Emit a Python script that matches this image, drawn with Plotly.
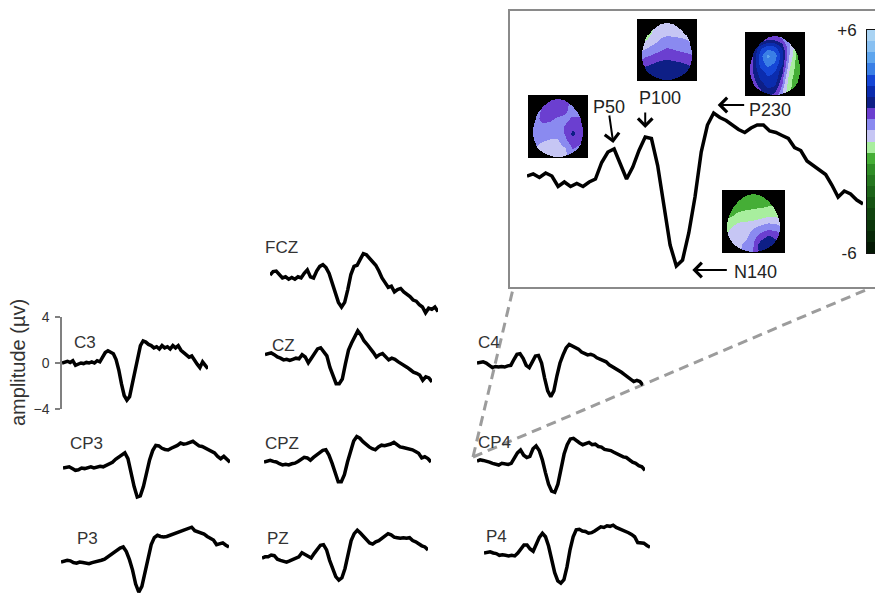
import numpy as np
import plotly.graph_objects as go

FIG_W, FIG_H = 875, 595
FONT = "Liberation Sans, Arial, Helvetica, sans-serif"

# ---------------------------------------------------------------------------
# Data
# ---------------------------------------------------------------------------
time_ms = list(range(-100, 441, 10))  # 55 samples

# grand-average ERPs (µV) per electrode
C3 = [0.0, 0.1, 0.15, 0.05, 0.2, -0.2, -0.1, 0.0, -0.05, 0.05,
      0.0, 0.1, 0.0, 0.2, 0.1, 0.5, 0.9, 1.05, 0.95, 0.8,
      0.3, -0.6, -1.8, -2.8, -3.2, -2.9, -1.8, -0.6, 0.6, 1.5,
      1.9, 1.8, 1.6, 1.5, 1.3, 1.4, 1.2, 1.5, 1.3, 1.4,
      1.2, 1.5, 1.3, 1.5, 1.1, 0.9, 0.7, 0.5, 0.6, 0.2,
      -0.1, -0.4, 0.1, -0.2, -0.5]
FCZ = [0.25, 0.55, 0.6, 0.3, 0.0, 0.1, -0.1, 0.05, -0.1, 0.1,
       0.0, 0.4, 0.7, 0.1, 0.0, 0.6, 1.0, 1.15, 0.9, 0.4,
       -0.4, -1.3, -2.1, -2.5, -2.1, -1.0, 0.3, 1.0, 1.1, 1.6,
       2.1, 2.0, 1.7, 1.4, 1.1, 0.6, 0.0, -0.4, -0.8, -0.7,
       -1.2, -1.0, -0.9, -1.2, -1.4, -1.6, -1.9, -2.0, -2.3, -2.5,
       -3.0, -2.6, -2.7, -2.5, -2.9]
CZ = [0.2, 0.3, 0.35, 0.2, 0.0, -0.1, -0.25, -0.2, -0.3, -0.2,
      -0.1, -0.15, 0.2, 0.0, -0.5, -0.1, 0.3, 0.7, 0.8, 0.5,
      0.1, -0.9, -1.6, -2.3, -2.3, -1.9, -0.6, 0.6, 1.2, 1.7,
      2.25, 1.9, 1.4, 1.1, 0.8, 0.4, 0.0, 0.2, 0.3, 0.0,
      -0.25, -0.1, -0.2, -0.4, -0.55, -0.7, -0.9, -1.1, -1.3, -1.4,
      -1.55, -2.0, -1.7, -1.8, -2.15]
C4 = [0.0, 0.05, 0.1, 0.0, -0.2, -0.4, -0.3, -0.35, -0.3, -0.35,
      -0.25, -0.2, 0.3, 0.75, 0.8, 0.4, -0.2, -0.4, 0.1, 0.6,
      0.65, 0.0, -1.3, -2.4, -2.9, -2.4, -1.1, 0.0, 0.7, 1.3,
      1.6, 1.45, 1.3, 1.2, 0.95, 0.85, 0.7, 0.75, 0.65, 0.45,
      0.35, 0.2, 0.1, -0.15, -0.3, -0.5, -0.6, -0.8, -1.0, -1.2,
      -1.4, -1.6, -1.5, -1.6, -1.9]
CP3 = [0.0, 0.05, 0.1, -0.05, -0.2, -0.15, 0.0, -0.05, 0.05, 0.1,
       0.0, 0.05, 0.15, 0.1, 0.25, 0.35, 0.5, 0.75, 0.95, 1.1,
       1.3, 0.8, -0.5, -1.6, -2.5, -2.4, -1.6, -0.4, 0.7, 1.5,
       1.95, 1.9, 1.7, 1.6, 1.55, 1.7, 1.8, 1.95, 2.15, 2.05,
       2.1, 2.2, 2.3, 2.1, 1.9, 1.85, 1.7, 1.6, 1.45, 1.3,
       1.0, 0.8, 1.0, 0.75, 0.5]
CPZ = [0.0, 0.1, 0.15, 0.05, 0.0, -0.15, -0.25, -0.2, -0.25, -0.15,
       -0.1, 0.05, 0.2, 0.4, 0.35, 0.15, 0.4, 0.6, 0.85, 1.0,
       1.05, 0.6, -0.1, -1.0, -1.7, -1.7, -1.1, 0.0, 1.0, 1.8,
       2.2, 2.05, 1.75, 1.5, 1.3, 1.15, 1.05, 1.3, 1.45, 1.4,
       1.45, 1.55, 1.7, 1.5, 1.3, 1.25, 1.2, 1.1, 1.05, 0.9,
       0.75, 0.35, 0.45, 0.3, 0.0]
CP4 = [0.0, 0.1, 0.05, 0.0, -0.1, -0.2, -0.3, -0.35, -0.2, -0.25,
       -0.3, -0.2, 0.2, 0.7, 0.95, 0.5, 0.3, 0.4, 1.05, 1.3,
       0.9, 0.1, -1.0, -2.0, -2.6, -2.7, -2.0, -0.7, 0.6, 1.4,
       1.9, 1.95, 1.7, 1.55, 1.4, 1.5, 1.6, 1.4, 1.45, 1.25,
       1.2, 1.0, 0.95, 0.9, 0.75, 0.6, 0.5, 0.35, 0.3, 0.1,
       -0.1, -0.2, -0.4, -0.5, -0.8]
P3 = [0.0, 0.1, 0.15, 0.1, -0.05, -0.1, 0.0, -0.05, -0.1, -0.15,
      -0.05, 0.0, 0.05, 0.15, 0.25, 0.45, 0.6, 0.8, 1.0, 1.2,
      1.3, 0.9, 0.2, -0.7, -1.9, -2.6, -2.1, -0.9, 0.5, 1.5,
      2.1, 2.3, 2.2, 2.15, 2.2, 2.3, 2.4, 2.55, 2.6, 2.75,
      2.8, 2.9, 3.0, 2.7, 2.6, 2.55, 2.4, 2.2, 2.05, 1.9,
      1.5, 1.6, 1.65, 1.45, 1.3]
PZ = [0.0, 0.1, 0.1, 0.25, 0.2, -0.1, -0.2, -0.3, -0.35, -0.25,
      -0.15, -0.05, 0.1, 0.45, 0.3, 0.1, 0.0, 0.4, 0.75, 1.1,
      1.15, 0.7, -0.2, -0.9, -1.6, -1.9, -1.7, -0.9, 0.4, 1.5,
      2.1, 2.4, 2.15, 1.9, 1.6, 1.3, 1.2, 1.4, 1.5, 1.7,
      1.85, 2.1, 2.0, 1.8, 1.75, 1.7, 1.75, 1.7, 1.75, 1.5,
      1.4, 1.2, 1.05, 0.95, 0.7]
P4 = [0.0, 0.05, 0.1, 0.0, -0.05, -0.2, -0.15, -0.2, -0.25, -0.2,
      -0.25, 0.0, 0.35, 0.7, 0.7, 0.35, 0.15, 0.8, 1.35, 1.7,
      1.4, 0.6, -0.5, -1.7, -2.4, -2.6, -2.3, -1.2, 0.3, 1.4,
      2.0, 2.05, 1.9, 1.85, 1.7, 1.75, 1.9, 2.05, 2.25, 2.2,
      2.35, 2.3, 2.4, 2.2, 2.1, 1.95, 1.85, 1.75, 1.6, 1.4,
      0.9, 0.85, 0.85, 0.65, 0.5]

# magnified right centro-parietal ERP shown in the inset
INSET_ERP = [0.0, 0.07, -0.05, 0.1, 0.0, -0.35, -0.2, -0.35, -0.25, -0.35,
             -0.2, -0.1, 0.45, 0.8, 0.9, 0.4, -0.1, 0.3, 0.85, 1.3,
             1.25, 0.35, -1.0, -2.3, -3.0, -2.8, -1.9, -0.7, 0.8, 1.7,
             2.1, 1.95, 1.85, 1.7, 1.55, 1.45, 1.6, 1.7, 1.7, 1.5,
             1.45, 1.35, 1.25, 0.95, 0.85, 0.5, 0.35, 0.2, 0.05, -0.3,
             -0.7, -0.5, -0.6, -0.8, -0.93]

# named components: label, search window (ms), polarity
COMPONENTS = [("P50", (0, 70), 1), ("P100", (70, 120), 1),
              ("N140", (100, 200), -1), ("P230", (160, 260), 1)]

# scalp topographies, 9x9 grid of µV values (rows frontal -> occipital, cols left -> right)
TOPO_P50 = [
    [0.9, 0.9, 0.9, 1.1, 1.2, 1.1, 0.9, 0.9, 0.9],
    [0.9, 0.9, 1.3, 1.5, 1.6, 1.4, 1.0, 0.9, 0.9],
    [0.9, 1.0, 1.3, 1.6, 1.5, 1.3, 1.0, 0.9, 0.9],
    [0.9, 1.0, 1.4, 1.3, 1.1, 1.0, 1.3, 1.3, 0.9],
    [0.9, 0.9, 1.0, 1.0, 0.9, 1.3, 1.6, 1.5, 1.0],
    [0.9, 0.9, 0.9, 0.8, 0.8, 1.3, 1.95, 1.5, 1.0],
    [0.8, 0.7, 0.6, 0.5, 0.5, 1.0, 1.5, 1.3, 0.9],
    [0.7, 0.6, 0.4, 0.3, 0.3, 0.5, 1.2, 1.0, 0.8],
    [0.6, 0.5, 0.3, 0.2, 0.2, 0.4, 0.8, 0.8, 0.7],
]
TOPO_P100 = [
    [-0.6, -0.5, -0.1, 0.3, 0.3, 0.3, 0.3, 0.3, 0.3],
    [-0.8, -0.7, -0.1, 0.3, 0.4, 0.4, 0.4, 0.4, 0.3],
    [-0.8, -0.6, 0.1, 0.4, 0.5, 0.5, 0.5, 0.5, 0.4],
    [-0.4, 0.0, 0.4, 0.7, 0.9, 0.8, 0.7, 0.6, 0.5],
    [0.5, 0.6, 0.9, 1.1, 1.3, 1.2, 1.1, 1.0, 0.9],
    [1.0, 1.2, 1.4, 1.6, 1.7, 1.6, 1.5, 1.4, 1.3],
    [1.4, 1.7, 1.9, 2.1, 2.1, 2.1, 2.0, 1.8, 1.6],
    [1.6, 1.9, 2.2, 2.3, 2.3, 2.3, 2.3, 2.1, 1.8],
    [1.7, 2.0, 2.3, 2.4, 2.4, 2.4, 2.3, 2.2, 1.9],
]
TOPO_N140 = [
    [-1.3, -1.2, -1.0, -0.9, -0.9, -0.9, -0.9, -0.9, -0.9],
    [-1.4, -1.3, -1.0, -0.9, -0.8, -0.8, -0.8, -0.8, -0.8],
    [-1.3, -1.1, -0.9, -0.8, -0.7, -0.7, -0.6, -0.6, -0.6],
    [-1.0, -0.8, -0.5, -0.4, -0.4, -0.3, -0.2, -0.2, -0.3],
    [-0.6, -0.3, -0.1, 0.0, 0.1, 0.2, 0.4, 0.3, 0.0],
    [-0.3, 0.0, 0.3, 0.4, 0.6, 0.9, 1.1, 1.0, 0.6],
    [-0.1, 0.2, 0.4, 0.5, 0.9, 1.5, 1.9, 1.6, 1.0],
    [0.0, 0.3, 0.5, 0.7, 1.2, 2.1, 2.4, 2.1, 1.2],
    [0.1, 0.3, 0.5, 0.8, 1.3, 2.0, 2.3, 1.9, 1.1],
]
TOPO_P230 = [
    [0.6, 0.6, 0.7, 0.8, 0.8, 0.7, 0.5, 0.2, 0.0],
    [0.7, 1.0, 1.5, 1.9, 1.8, 1.3, 0.5, -0.2, -0.5],
    [0.8, 1.5, 2.8, 3.5, 3.3, 2.3, 0.7, -0.7, -1.0],
    [0.9, 1.8, 3.3, 4.4, 3.9, 2.6, 0.5, -0.9, -1.1],
    [0.9, 1.8, 3.2, 3.9, 3.5, 2.4, 0.2, -1.0, -1.1],
    [0.9, 1.7, 2.8, 3.2, 3.0, 1.9, -0.1, -1.0, -1.1],
    [0.8, 1.5, 2.4, 2.9, 2.8, 1.4, -0.4, -1.0, -1.1],
    [0.7, 1.2, 1.9, 2.5, 2.3, 0.9, -0.5, -1.0, -1.0],
    [0.6, 1.0, 1.4, 1.9, 1.6, 0.5, -0.5, -0.9, -0.9],
]

# colour map: 20 equal bands from -6 to +6 µV (dark green -> light green -> violet -> blue)
SCALE_MIN, SCALE_MAX = -6.0, 6.0
BAND_COLORS = ["#041804", "#082808", "#0c360b", "#11440f", "#165313", "#1d6419",
               "#267720", "#308d27", "#45ae36", "#a8ee9e",
               "#c6c6f4", "#8a8af0", "#6b3fd0", "#0e1f86", "#0b2cae", "#1546d6",
               "#3a7fe6", "#5ea5ee", "#88c0f2", "#a9d3f3"]

# ---------------------------------------------------------------------------
# Layout (pixel geometry of the montage)
# ---------------------------------------------------------------------------
UV_PX = 11.6          # vertical scale of the electrode traces, px per µV
INSET_UV_PX = 30.0    # vertical scale inside the inset
# name, series, first px, last px, baseline px, label left px, label centre px
PANELS = [
    ("C3", C3, 62, 208, 363, 72, 343),
    ("FCZ", FCZ, 270, 438, 278, 263, 247),
    ("CZ", CZ, 265, 432, 357, 270, 345),
    ("C4", C4, 477, 643, 363, 476, 343),
    ("CP3", CP3, 63, 230, 468, 68, 443),
    ("CPZ", CPZ, 264, 431, 462, 263, 443),
    ("CP4", CP4, 477, 645, 461, 476, 442),
    ("P3", P3, 61, 229, 562, 75, 538),
    ("PZ", PZ, 262, 428, 558, 265, 538),
    ("P4", P4, 484, 650, 553, 484, 536),
]
INSET_BOX = (509, 10, 885, 288)          # left, top, right, bottom
INSET_TRACE = (527, 863, 176, 12, 286)   # first px, last px, baseline, top, bottom
ZOOM_APEX = (473, 457)
ZOOM_ENDS = [(513, 289), (868, 289)]
TOPO_BOXES = [(TOPO_P50, 528, 588, 95, 158), (TOPO_P100, 637, 697, 19, 81),
              (TOPO_P230, 745, 805, 32, 96), (TOPO_N140, 722, 785, 190, 253)]
CBAR_BOX = (867, 875, 30, 253)


def xp(v):
    return min(max(v / FIG_W, 0.0), 1.0)


def yp(v):
    return min(max(1 - v / FIG_H, 0.0), 1.0)


fig = go.Figure()
lay = dict(width=FIG_W, height=FIG_H, autosize=False,
           margin=dict(l=0, r=0, t=0, b=0, pad=0, autoexpand=False),
           paper_bgcolor="white", plot_bgcolor="rgba(0,0,0,0)", showlegend=False,
           font=dict(family=FONT, color="#222"))
shapes, annotations = [], []
_n = [0]


def new_axes(x0, x1, top, bottom, xrange=None, yrange=None):
    _n[0] += 1
    s = "" if _n[0] == 1 else str(_n[0])
    xa = dict(domain=[xp(x0), xp(x1)], visible=False, anchor="y" + s,
              fixedrange=True, automargin=False)
    ya = dict(domain=[yp(bottom), yp(top)], visible=False, anchor="x" + s,
              fixedrange=True, automargin=False)
    if xrange is not None:
        xa["range"] = xrange
    if yrange is not None:
        ya["range"] = yrange
    lay["xaxis" + s] = xa
    lay["yaxis" + s] = ya
    return "x" + s, "y" + s, xa, ya


t_range = [time_ms[0], time_ms[-1]]
line_style = dict(color="black", width=3.5)

# ---- electrode traces ----
for name, series, x0, x1, base, lx, ly in PANELS:
    half = 4 * UV_PX
    top, bottom = max(base - half, 0), min(base + half, FIG_H)
    yr = [(base - bottom) / UV_PX, (base - top) / UV_PX]
    xid, yid, xa, ya = new_axes(x0, x1, top, bottom, t_range, yr)
    fig.add_trace(go.Scatter(x=time_ms, y=series, mode="lines", line=line_style,
                             xaxis=xid, yaxis=yid, hoverinfo="skip"))
    annotations.append(dict(text=name, x=xp(lx), y=yp(ly), xref="paper", yref="paper",
                            xanchor="left", yanchor="middle", showarrow=False,
                            font=dict(size=17, color="#333")))
    if name == "C3":
        ya.update(visible=True, showline=True, linecolor="#808080", linewidth=1.5,
                  showgrid=False, zeroline=False, tickvals=[-4, 0, 4],
                  ticks="outside", ticklen=5, tickcolor="#808080", tickwidth=1.5,
                  ticklabelstandoff=3, tickfont=dict(size=14, color="#333"))
        annotations.append(dict(text="amplitude (µv)", textangle=-90,
                                x=xp(18), y=yp(base), xref="paper", yref="paper",
                                xanchor="center", yanchor="middle", showarrow=False,
                                font=dict(size=20, color="#333")))

# ---- inset frame and zoom guides ----
bx0, by0, bx1, by1 = INSET_BOX
shapes.append(dict(type="rect", xref="paper", yref="paper",
                   x0=bx0 / FIG_W, x1=bx1 / FIG_W, y0=1 - by1 / FIG_H, y1=1 - by0 / FIG_H,
                   line=dict(color="#8a8a8a", width=2), fillcolor="rgba(0,0,0,0)",
                   layer="below"))
for ex, ey in ZOOM_ENDS:
    shapes.append(dict(type="line", xref="paper", yref="paper",
                       x0=ZOOM_APEX[0] / FIG_W, y0=1 - ZOOM_APEX[1] / FIG_H,
                       x1=ex / FIG_W, y1=1 - ey / FIG_H,
                       line=dict(color="#9c9c9c", width=3, dash="10px,6px"),
                       layer="below"))

# ---- inset ERP with component markers ----
ix0, ix1, ibase, itop, ibot = INSET_TRACE
iyr = [(ibase - ibot) / INSET_UV_PX, (ibase - itop) / INSET_UV_PX]
ixid, iyid, _, _ = new_axes(ix0, ix1, itop, ibot, t_range, iyr)
fig.add_trace(go.Scatter(x=time_ms, y=INSET_ERP, mode="lines", line=line_style,
                         xaxis=ixid, yaxis=iyid, hoverinfo="skip"))

t_arr = np.array(time_ms)
v_arr = np.array(INSET_ERP)
# arrow tail offsets (px), standoff, vertical shift, label centre (px)
ARROWS = {"P50": (-5, -35, 6, 0, (609, 107)),
          "P100": (0, -26, 9, 0, (660, 98)),
          "P230": (32, 0, 4, 8, (770, 110)),
          "N140": (52, 0, 16, -4, (755, 272))}
for comp, (lo, hi), sign in COMPONENTS:
    sel = np.where((t_arr >= lo) & (t_arr <= hi))[0]
    k = sel[np.argmax(sign * v_arr[sel])]
    ax, ay, stand, ysh, (tx, ty) = ARROWS[comp]
    annotations.append(dict(text="", x=int(t_arr[k]), y=float(v_arr[k]), xref=ixid, yref=iyid,
                            showarrow=True, ax=ax, ay=ay, standoff=stand, yshift=ysh,
                            arrowhead=4, arrowsize=1.4, arrowwidth=2, arrowcolor="black"))
    annotations.append(dict(text=comp, x=xp(tx), y=yp(ty), xref="paper", yref="paper",
                            xanchor="center", yanchor="middle", showarrow=False,
                            font=dict(size=18, color="#222")))

# ---- scalp maps ----
colorscale = []
nb = len(BAND_COLORS)
for i, c in enumerate(BAND_COLORS):
    colorscale.append([i / nb, c])
    colorscale.append([(i + 1) / nb, c])


def upsample(grid, n):
    g = np.array(grid, dtype=float)[::-1]  # bottom row first
    r, c = g.shape
    ys = np.linspace(0, r - 1, n)
    xs = np.linspace(0, c - 1, n)
    y0 = np.clip(np.floor(ys).astype(int), 0, r - 2)
    x0 = np.clip(np.floor(xs).astype(int), 0, c - 2)
    fy = (ys - y0)[:, None]
    fx = (xs - x0)[None, :]
    a = g[np.ix_(y0, x0)]
    b = g[np.ix_(y0, x0 + 1)]
    cc = g[np.ix_(y0 + 1, x0)]
    d = g[np.ix_(y0 + 1, x0 + 1)]
    return (a * (1 - fx) + b * fx) * (1 - fy) + (cc * (1 - fx) + d * fx) * fy


def head_outline(n):
    u = np.linspace(-1, 1, n)
    U, V = np.meshgrid(u, u)
    c, b, a, k = -0.05, 0.93, 0.85, 0.15
    t = (V - c) / b
    half = a * np.sqrt(np.clip(1 - t ** 2, 0, None)) * (1 - k * t)
    return np.abs(U) <= half


N_PIX = 64
grid_xy = np.linspace(0, 1, N_PIX)
inside = head_outline(N_PIX)
for grid, x0, x1, top, bottom in TOPO_BOXES:
    xid, yid, _, _ = new_axes(x0, x1, top, bottom)
    z = np.where(inside, upsample(grid, N_PIX), np.nan)
    fig.add_trace(go.Heatmap(z=z, x=grid_xy, y=grid_xy, colorscale=colorscale,
                             zmin=SCALE_MIN, zmax=SCALE_MAX, showscale=False,
                             xaxis=xid, yaxis=yid, hoverinfo="skip"))
    shapes.append(dict(type="rect", xref=xid + " domain", yref=yid + " domain",
                       x0=0, x1=1, y0=0, y1=1, fillcolor="black",
                       line=dict(width=0), layer="below"))

# ---- colour bar ----
step = (SCALE_MAX - SCALE_MIN) / nb
mids = [SCALE_MIN + step * (i + 0.5) for i in range(nb)]
cx0, cx1, ctop, cbot = CBAR_BOX
cxid, cyid, cxa, cya = new_axes(cx0, cx1, ctop, cbot, [-0.5, 0.5], [SCALE_MIN, SCALE_MAX])
fig.add_trace(go.Heatmap(z=[[m] for m in mids], x=[0], y=mids, colorscale=colorscale,
                         zmin=SCALE_MIN, zmax=SCALE_MAX, showscale=False,
                         xaxis=cxid, yaxis=cyid, hoverinfo="skip"))
cya.update(visible=True, showline=True, linecolor="#111", linewidth=1, mirror=True,
           showgrid=False, zeroline=False, ticks="", tickvals=[SCALE_MIN, SCALE_MAX],
           ticktext=["-6", "+6"], ticklabelstandoff=6,
           tickfont=dict(size=17, color="#222"))
cxa.update(visible=True, showline=True, linecolor="#111", linewidth=1, mirror=True,
           showgrid=False, zeroline=False, ticks="", showticklabels=False)

lay["shapes"] = shapes
lay["annotations"] = annotations
fig.update_layout(**lay)
fig.write_html("out.html")
